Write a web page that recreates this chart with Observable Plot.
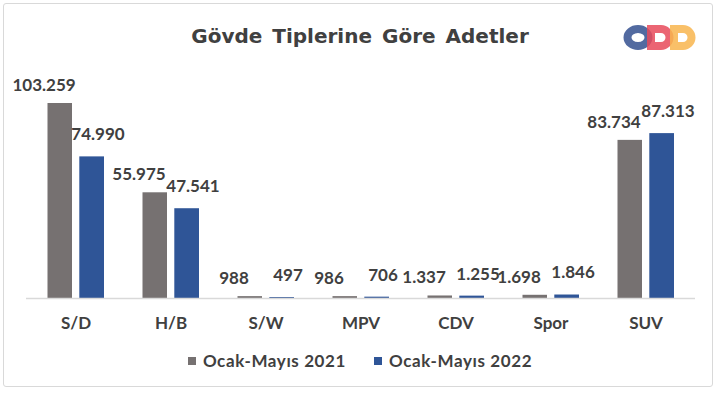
<!DOCTYPE html>
<html>
<head>
<meta charset="utf-8">
<script src="https://cdn.jsdelivr.net/npm/d3@7"></script>
<script src="https://cdn.jsdelivr.net/npm/@observablehq/plot@0.6"></script>
<style>
html, body { margin: 0; padding: 0; background: #fff; }
#wrap { position: relative; width: 720px; height: 394px; overflow: hidden; font-family: Lato, sans-serif; }
#frame { position: absolute; left: 3px; top: 3px; width: 708px; height: 382px; border: 1.5px solid #d9d9d9; border-radius: 3px; }
#title { position: absolute; left: 0; top: 24px; width: 720px; text-align: center; font-family: "DejaVu Sans", sans-serif; font-size: 20px; font-weight: bold; color: #404040; word-spacing: 3px; line-height: 24px; }
#chart { position: absolute; left: 0; top: 60px; }
#legend { position: absolute; left: 0; top: 352px; width: 720px; display: flex; justify-content: center; align-items: center; font-size: 17px; font-weight: bold; color: #404040; line-height: 18px; letter-spacing: 0.6px; }
#legend .item { display: flex; align-items: center; margin: 0 14px; }
#legend .sw { width: 8px; height: 8px; margin-right: 7px; }
#logo { position: absolute; left: 620px; top: 22px; }
</style>
</head>
<body>
<div id="wrap">
  <div id="frame"></div>
  <div id="title">Gövde Tiplerine Göre Adetler</div>
  <svg id="logo" width="80" height="32" viewBox="0 0 80 32">
    <ellipse cx="18" cy="15.5" rx="10.5" ry="8.5" fill="none" stroke="#3f5a96" stroke-width="8" opacity="0.9"/>
    <path d="M31,7 H41 A8.5,8.5 0 0 1 41,24 H31 Z" fill="none" stroke="#e84a5b" stroke-width="8" opacity="0.85"/>
    <path d="M54,7 H63 A8.5,8.5 0 0 1 63,24 H54 Z" fill="none" stroke="#f8b54e" stroke-width="8" opacity="0.85"/>
  </svg>
  <div id="chart"></div>
  <div id="legend"></div>
</div>
<script>
// Data
const categories = ["S/D", "H/B", "S/W", "MPV", "CDV", "Spor", "SUV"];
const series = ["Ocak-Mayıs 2021", "Ocak-Mayıs 2022"];
const values2021 = [103259, 55975, 988, 986, 1337, 1698, 83734];
const values2022 = [74990, 47541, 497, 706, 1255, 1846, 87313];
const colors = ["#767171", "#2f5597"];

const fmt = v => d3.format(",")(v).replace(/,/g, ".");

const rows = [];
categories.forEach((c, i) => {
  rows.push({cat: c, series: series[0], value: values2021[i]});
  rows.push({cat: c, series: series[1], value: values2022[i]});
});
const s0 = rows.filter(d => d.series === series[0]);
const s1 = rows.filter(d => d.series === series[1]);

const textStyle = {fontSize: 17, fontWeight: "bold", fill: "#404040"};

const chart = Plot.plot({
  width: 720,
  height: 280,
  marginLeft: 26,
  marginRight: 25,
  marginTop: 43,
  marginBottom: 42,
  style: {fontFamily: "Lato, sans-serif", background: "transparent", overflow: "visible"},
  x: {type: "band", domain: categories, padding: 0},
  y: {domain: [0, d3.max([...values2021, ...values2022])], axis: null, nice: false},
  color: {domain: series, range: colors},
  marks: [
    Plot.barY(s0, {x: "cat", y: "value", fill: "series", insetLeft: 19.5, insetRight: 51}),
    Plot.barY(s1, {x: "cat", y: "value", fill: "series", insetLeft: 51.3, insetRight: 19}),
    Plot.ruleY([0], {stroke: "#d9d9d9", strokeWidth: 1.5}),
    Plot.text(s0, {x: "cat", y: "value", text: d => fmt(d.value), dx: -32, dy: -18, ...textStyle}),
    Plot.text(s1, {x: "cat", y: "value", text: d => fmt(d.value), dx: 22, dy: -22, ...textStyle}),
    Plot.axisX({tickSize: 0, tickPadding: 18, fontSize: 17, fontWeight: "bold", fill: "#404040", label: null})
  ]
});
document.getElementById("chart").appendChild(chart);

// Legend built from the series and colour arrays
const legend = document.getElementById("legend");
series.forEach((s, i) => {
  const item = document.createElement("div");
  item.className = "item";
  const sw = document.createElement("span");
  sw.className = "sw";
  sw.style.background = colors[i];
  const t = document.createElement("span");
  t.textContent = s;
  item.appendChild(sw);
  item.appendChild(t);
  legend.appendChild(item);
});
</script>
</body>
</html>
